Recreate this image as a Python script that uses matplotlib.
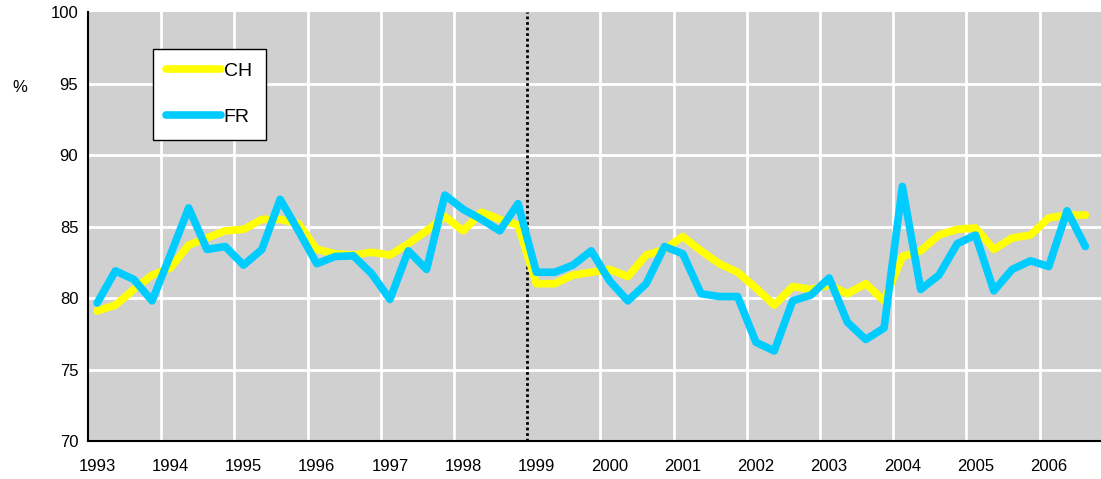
import numpy as np
import matplotlib
matplotlib.use('Agg')
import matplotlib.pyplot as plt

# quarterly shares, 1993Q1 .. 2006Q3
ch = [79.1, 79.5, 80.6, 81.6, 82.1, 83.7, 84.2, 84.7, 84.8, 85.5,
      85.5, 85.2, 83.4, 83.1, 83.0, 83.2, 83.0, 83.8, 84.7, 85.7,
      84.7, 86.0, 85.5, 85.1, 81.0, 81.0, 81.6, 81.8, 82.0, 81.5,
      83.0, 83.4, 84.3, 83.3, 82.4, 81.8, 80.7, 79.5, 80.8, 80.6,
      80.9, 80.3, 81.0, 79.8, 82.9, 83.3, 84.4, 84.8, 84.9, 83.4,
      84.2, 84.4, 85.6, 85.8, 85.8]
fr = [79.65, 81.9, 81.3, 79.8, 83.0, 86.3, 83.4, 83.6, 82.3, 83.4,
      86.9, 84.7, 82.4, 82.9, 82.95, 81.7, 79.9, 83.3, 82.0, 87.2,
      86.2, 85.5, 84.7, 86.6, 81.8, 81.8, 82.3, 83.3, 81.2, 79.8,
      81.0, 83.6, 83.1, 80.3, 80.1, 80.1, 76.9, 76.3, 79.8, 80.2,
      81.4, 78.3, 77.1, 77.9, 87.8, 80.6, 81.6, 83.8, 84.4, 80.5,
      82.0, 82.6, 82.2, 86.1, 83.6]
years = list(range(1993, 2007))
yticks = [70, 75, 80, 85, 90, 95, 100]

x = 1993 + (np.arange(len(ch)) + 0.5) / 4.0

plt.rcParams['font.family'] = ['Liberation Sans', 'DejaVu Sans']

fig = plt.figure(figsize=(11.01, 4.79), dpi=100)
ax = fig.add_axes([88 / 1101, 38 / 479, 1013 / 1101, 429 / 479])
ax.set_facecolor('#d0d0d0')

for yr in years[1:]:
    if yr != 1999:
        ax.axvline(yr, color='white', lw=2, zorder=1)
for v in yticks[1:-1]:
    ax.axhline(v, color='white', lw=2, zorder=1)
ax.axvline(1999, color='black', lw=2, linestyle=(0, (1, 1)), zorder=2)

ax.plot(x, ch, color='#ffff00', lw=5.5, label='CH', zorder=3,
        solid_capstyle='round', solid_joinstyle='round')
ax.plot(x, fr, color='#00ccff', lw=5.5, label='FR', zorder=4,
        solid_capstyle='round', solid_joinstyle='round')

ax.set_xlim(1993, 1993 + 1013 / 73.2)
ax.set_ylim(70, 100)
ax.set_yticks(yticks)
ax.set_xticks([yr + 0.125 for yr in years])
ax.set_xticklabels([str(yr) for yr in years])
ax.tick_params(axis='both', length=0, labelsize=12)
ax.tick_params(axis='x', pad=13)
ax.tick_params(axis='y', pad=7)

for s in ['top', 'right']:
    ax.spines[s].set_visible(False)
for s in ['left', 'bottom']:
    ax.spines[s].set_color('black')
    ax.spines[s].set_linewidth(1.5)

fig.text(12 / 1101, 1 - 88 / 479, '%', fontsize=12, ha='left', va='center')

leg = ax.legend(loc='upper left', bbox_to_anchor=(0.064, 0.914), borderaxespad=0,
                fontsize=14, handlelength=2.8, handletextpad=0.15,
                labelspacing=1.45, borderpad=0.7, fancybox=False,
                framealpha=1, edgecolor='black')
leg.get_frame().set_linewidth(1.0)
for h in leg.get_lines():
    h.set_solid_capstyle('round')

fig.savefig('out.png', dpi=100)
